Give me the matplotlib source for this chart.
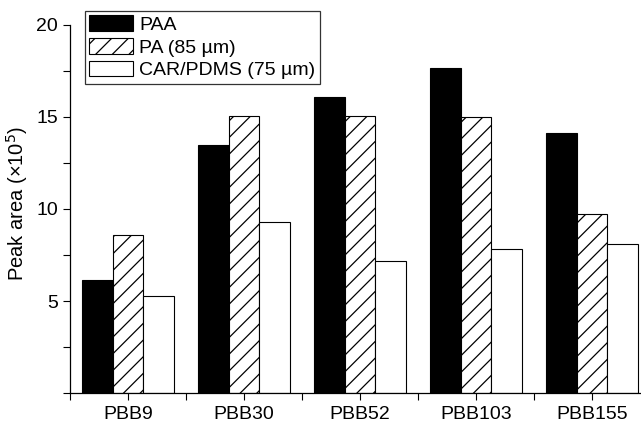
import matplotlib
matplotlib.use("Agg")
import matplotlib.pyplot as plt
from matplotlib.ticker import MultipleLocator
import numpy as np

plt.rcParams['font.family'] = ['Liberation Sans', 'DejaVu Sans']
plt.rcParams['hatch.linewidth'] = 0.9

categories = ["PBB9", "PBB30", "PBB52", "PBB103", "PBB155"]
paa = [6.13, 13.5, 16.08, 17.68, 14.13]
pa85 = [8.59, 15.03, 15.08, 14.98, 9.71]
carpdms = [5.25, 9.31, 7.15, 7.85, 8.08]
series_labels = ["PAA", "PA (85 µm)", "CAR/PDMS (75 µm)"]

FS = 14

fig = plt.figure(figsize=(6.41, 4.25), dpi=100)
ax = fig.add_axes([70/641, 32/425, 580/641, 368/425])

x = np.arange(len(categories))
w = 0.8/3
ax.bar(x - w, paa, w, color='black', edgecolor='black', linewidth=0.8, label=series_labels[0])
ax.bar(x, pa85, w, color='white', edgecolor='black', hatch='//', linewidth=0.8, label=series_labels[1])
ax.bar(x + w, carpdms, w, color='white', edgecolor='black', linewidth=0.8, label=series_labels[2])

ax.set_xlim(-0.5, 4.5)
ax.set_ylim(0, 20)
ax.set_xticks(x)
ax.set_xticklabels(categories, fontsize=FS)
ax.xaxis.set_minor_locator(MultipleLocator(1, offset=0.5))
ax.set_yticks([5, 10, 15, 20])
ax.yaxis.set_minor_locator(MultipleLocator(2.5))
ax.tick_params(axis='both', which='major', length=5, width=0.8, labelsize=FS, direction='out')
ax.tick_params(axis='x', which='major', pad=4.5)
ax.tick_params(axis='both', which='minor', length=5, width=0.8, direction='out')
ax.spines['top'].set_visible(False)
ax.spines['right'].set_visible(False)
ax.spines['left'].set_linewidth(0.9)
ax.spines['bottom'].set_linewidth(0.9)
ax.set_ylabel("Peak area (×10$^5$)", fontsize=14.5)
ax.yaxis.set_label_coords(-(70-30)/580, 0.515)

leg = fig.legend(loc='upper left', bbox_to_anchor=(85/641, 1 - 11/425), frameon=True,
                 fancybox=False, edgecolor='black', fontsize=FS, handlelength=2.25,
                 handleheight=0.85, handletextpad=0.32, labelspacing=0.22, borderpad=0.22,
                 borderaxespad=0)
leg.get_frame().set_linewidth(0.9)

fig.savefig("out.png", dpi=100)
